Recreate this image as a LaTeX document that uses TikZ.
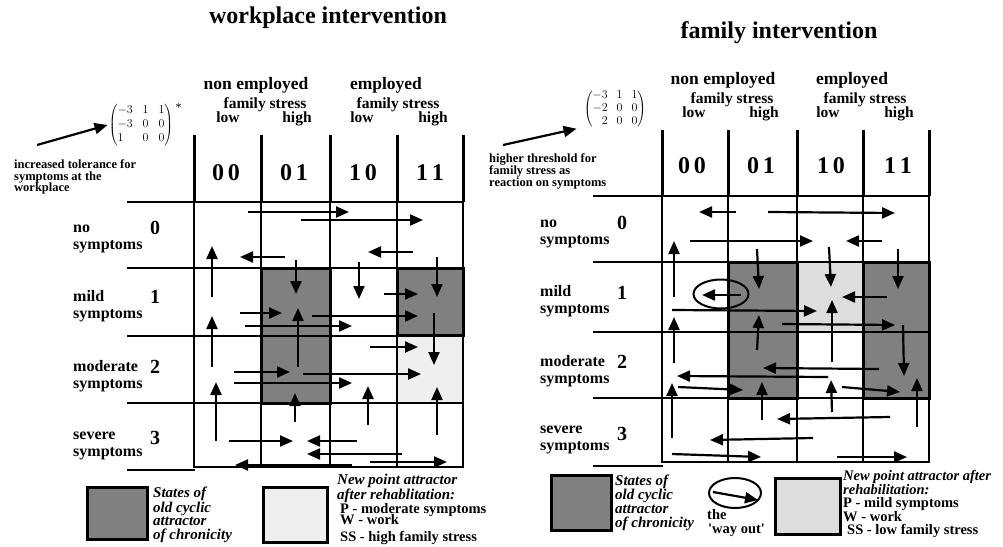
\documentclass[tikz,border=0pt]{standalone}
\usepackage{fontspec}
\setmainfont{Liberation Serif}
\usepackage{tikz}
\usetikzlibrary{arrows.meta,shapes.geometric}
\definecolor{cyclegray}{HTML}{808080}
\definecolor{pointgrayA}{HTML}{EFEFEF}
\definecolor{pointgrayB}{HTML}{DDDDDD}

\begin{document}
\begin{tikzpicture}[x=1pt,y=-1pt,
  every node/.style={inner sep=0pt,font=\bfseries},
  fld/.style={line width=2.2pt,-{Triangle[length=13pt,width=11pt]}},
  gridln/.style={line width=2pt,line cap=rect},
  hdln/.style={line width=3pt},
  attr/.style={line width=3pt},
  ttl/.style={font=\fontsize{24}{26}\selectfont\bfseries},
  hd/.style={font=\fontsize{17.5}{20}\selectfont\bfseries,anchor=base},
  sub/.style={font=\fontsize{15.5}{17}\selectfont\bfseries,anchor=base},
  code/.style={font=\fontsize{24}{26}\selectfont\bfseries,anchor=base},
  rowlab/.style={font=\fontsize{16}{17}\selectfont\bfseries,align=left,anchor=west},
  rowno/.style={font=\fontsize{20}{22}\selectfont\bfseries},
  note/.style={font=\fontsize{12.5}{11.5}\selectfont\bfseries,align=left,anchor=west},
  legit/.style={font=\fontsize{15}{13.5}\selectfont\bfseries\itshape,align=left,anchor=west},
  legbf/.style={font=\fontsize{14.5}{13}\selectfont\bfseries,anchor=base west},
  mat/.style={font=\fontsize{12}{14}\selectfont\mdseries}]
  \useasboundingbox (0,0) rectangle (1003,546);

  \fill[cyclegray] (261,268) rectangle (330,403);
  \fill[cyclegray] (397,268) rectangle (463,335);
  \fill[pointgrayA] (397,336) rectangle (463,403);
  \foreach \x in {194,261,330,397,463} \draw[hdln] (\x,135) -- (\x,202);
  \foreach \x in {194,261,330,397,463} \draw[gridln] (\x,202) -- (\x,467);
  \foreach \y in {202,268,336,403} \draw[gridln] (128,\y) -- (463,\y);
  \draw[gridln] (194,467) -- (463,467);
  \draw[gridln] (128,470) -- (194,470);
  \draw[attr] (261,268) rectangle (330,403);
  \draw[attr] (397,268) rectangle (463,335);

  \fill[cyclegray] (728,262) rectangle (797,398);
  \fill[cyclegray] (863,262) rectangle (929,398);
  \fill[pointgrayB] (797,262) rectangle (863,332);
  \foreach \x in {662,728,797,863,929} \draw[hdln] (\x,130) -- (\x,196);
  \foreach \x in {662,728,797,863,929} \draw[gridln] (\x,196) -- (\x,462);
  \foreach \y in {196,262,332,398} \draw[gridln] (594,\y) -- (929,\y);
  \draw[gridln] (662,462) -- (929,462);
  \draw[gridln] (594,466) -- (662,466);
  \draw[attr] (728,262) rectangle (797,398);
  \draw[attr] (863,262) rectangle (929,398);

  \foreach \a/\b/\c/\d in {248/212/349/212, 301/220/423/220, 285/257/240/257, 413/252/368/252,
    212/297/212/246, 296/260/296/294, 359/262/359/299, 437/257/437/297, 384/294/418/294,
    240/313/282/313, 298/367/298/308, 312/316/418/316, 245/326/352/326, 212/367/212/316,
    434/313/434/365, 370/347/418/347, 234/372/290/372, 303/374/421/374, 234/383/352/383,
    216/441/216/382, 295/422/295/393, 368/425/368/386, 437/435/437/387, 229/441/293/441,
    357/441/307/441, 402/454/307/454, 352/465/235/465, 370/462/447/462}
    \draw[fld] (\a,\b) -- (\c,\d);

  \foreach \a/\b/\c/\d in {736/212/699/212, 768/212/895/213, 690/241/813/241, 882/241/846/241,
    674/297/674/241, 757/249/759/289, 829/247/831/287, 898/249/898/289, 741/295/702/295,
    887/297/842/297, 672/310/817/311, 832/362/832/300, 757/350/759/315, 782/324/895/325,
    674/363/674/317, 903/325/904/376, 879/369/763/368, 828/377/677/376, 678/387/743/390,
    672/438/672/383, 762/420/762/382, 832/412/831/380, 842/387/900/392, 917/427/917/378,
    890/417/777/419, 813/438/710/440, 672/454/761/457, 837/457/907/457}
    \draw[fld] (\a,\b) -- (\c,\d);
  \node[draw,ellipse,line width=2pt,minimum width=55pt,minimum height=29pt] (wayout) at (721,294) {};

  \node[ttl] (tL) at (328,18) {workplace intervention};
  \node[ttl] (tR) at (779,33) {family intervention};

  \node[hd] (neL) at (256,89.5) {non employed};
  \node[hd] (emL) at (386,89.5) {employed};
  \node[sub] (fsL1) at (265,108.5) {family stress};
  \node[sub] (fsL2) at (398,108.5) {family stress};
  \foreach \x/\t [count=\i] in {228/low,297/high,362/low,433/high}
    \node[sub] (lhL\i) at (\x,122.5) {\t};
  \foreach \x/\t [count=\i] in {226/{0\,0},294/{0\,1},363/{1\,0},430/{1\,1}}
    \node[code] (cL\i) at (\x,180) {\t};

  \node[hd] (neR) at (723,84) {non employed};
  \node[hd] (emR) at (852,84) {employed};
  \node[sub] (fsR1) at (732,103.5) {family stress};
  \node[sub] (fsR2) at (865,103.5) {family stress};
  \foreach \x/\t [count=\i] in {694/low,764/high,828/low,899/high}
    \node[sub] (lhR\i) at (\x,117) {\t};
  \foreach \x/\t [count=\i] in {692/{0\,0},761/{0\,1},831/{1\,0},898/{1\,1}}
    \node[code] (cR\i) at (\x,173) {\t};

  \foreach \y/\t [count=\i] in {239/{no\\symptoms},306.5/{mild\\symptoms},376/{moderate\\symptoms},445.5/{severe\\symptoms}}
    \node[rowlab] (rL\i) at (73,\y) {\t};
  \foreach \y/\t [count=\i] in {228/0,297/1,367/2,438/3}
    \node[rowno] (nL\i) at (155,\y) {\t};
  \foreach \y/\t [count=\i] in {234/{no\\symptoms},301.5/{mild\\symptoms},371.5/{moderate\\symptoms},439.5/{severe\\symptoms}}
    \node[rowlab] (rR\i) at (540,\y) {\t};
  \foreach \y/\t [count=\i] in {223/0,293/1,362/2,434/3}
    \node[rowno] (nR\i) at (622,\y) {\t};

  \node[mat] (mL) at (141,125) {$\left(\begin{array}{@{}l@{\hspace{10pt}}c@{\hspace{10pt}}c@{}}-3&1&1\\-3&0&0\\1&0&0\end{array}\right)$};
  \node[mat,anchor=west] (ast) at ([xshift=2pt,yshift=-4pt]mL.north east) {*};
  \coordinate (pL) at (37,145);
  \draw[fld] (pL) -- ([xshift=-1pt]mL.west);
  \node[note] (nt1) at (14,177) {increased tolerance for\\symptoms at the\\workplace};

  \node[mat,font=\fontsize{11.5}{13}\selectfont\mdseries] (mR) at (615,109) {$\left(\begin{array}{@{}r@{\hspace{9pt}}c@{\hspace{9pt}}c@{}}-3&1&1\\-2&0&0\\2&0&0\end{array}\right)$};
  \coordinate (pR) at (503,145);
  \draw[fld] (pR) -- ([xshift=-7pt]mR.south west);
  \node[note] (nt2) at (489,171) {higher threshold for\\family stress as\\reaction on symptoms};

  \draw[attr,fill=cyclegray] (87,487) rectangle (147,539);
  \node[legit] (lgL1) at (153,515) {States of\\old cyclic\\attractor\\of chronicity};
  \draw[attr,fill=pointgrayA] (263,487) rectangle (327,542);
  \node[legit,font=\fontsize{15}{15}\selectfont\bfseries\itshape] (lgL2) at (337,488.5) {New point attractor\\after rehablitation:};
  \node[legbf] (lgL3) at (340,513) {P - moderate symptoms};
  \node[legbf] (lgL4) at (340,524.5) {W - work};
  \node[legbf] (lgL5) at (340,541) {SS - high family stress};

  \draw[attr,fill=cyclegray] (551,475) rectangle (611,530);
  \node[legit,font=\fontsize{15}{14}\selectfont\bfseries\itshape] (lgR1) at (615,503) {States of\\old cyclic\\attractor\\of chronicity};
  \node[draw,ellipse,line width=2pt,minimum width=52pt,minimum height=30pt] (wayleg) at (735,493) {};
  \coordinate (wa) at (713,492);
  \coordinate (wb) at (758,500);
  \draw[fld] (wa) -- (wb);
  \node[legbf] (lgR2) at (707,519) {the};
  \node[legbf] (lgR3) at (708,533) {\textquotesingle way out\textquotesingle};
  \draw[attr,fill=pointgrayB] (775,478) rectangle (840,534);
  \node[legbf,font=\fontsize{14.5}{13}\selectfont\bfseries\itshape] (lgR4) at (843,480.5) {New point attractor after};
  \node[legbf,font=\fontsize{14.5}{13}\selectfont\bfseries\itshape] (lgR5) at (843,494) {rehabilitation:};
  \node[legbf] (lgR6) at (843,507.5) {P - mild symptoms};
  \node[legbf] (lgR7) at (843,521) {W - work};
  \node[legbf] (lgR8) at (847,534.5) {SS - low family stress};
\end{tikzpicture}
\end{document}
